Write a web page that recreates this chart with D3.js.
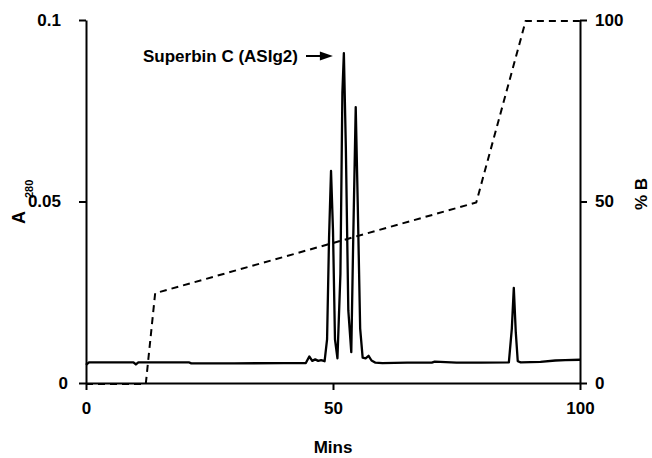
<!DOCTYPE html>
<html>
<head>
<meta charset="utf-8">
<script src="https://cdn.jsdelivr.net/npm/d3@7"></script>
<style>
  body { margin: 0; background: #fff; }
  svg text { font-family: "Liberation Sans", Arial, sans-serif; font-weight: bold; fill: #000; }
</style>
</head>
<body>
<svg class="chart"></svg>
<script>
// DATA /////////////////////////////////////////
// absorbance trace (minutes, A280)
const traceMins = [0, 0.6, 9.6, 10.1, 10.6, 20.8, 21.3, 30, 40, 44.5, 45.2, 45.8, 46.4, 47, 47.6, 48.3,
  48.8, 49.2, 49.6, 50.0, 50.4, 50.9, 51.5, 51.9, 52.2, 52.6, 53.1, 53.7, 54.1, 54.6, 55.0, 55.5,
  56.0, 56.6, 57.2, 57.8, 58.6, 60, 65, 70, 70.6, 75, 80, 85.6, 86.2, 86.6, 87.0, 87.4, 88, 92, 95, 97, 100];
const traceA = [0.0050, 0.0057, 0.0057, 0.0051, 0.0057, 0.0057, 0.0054, 0.0054, 0.0055, 0.0055, 0.0073, 0.0061, 0.0065, 0.0061, 0.0063, 0.0060,
  0.0120, 0.0400, 0.0584, 0.0420, 0.0120, 0.0068, 0.0300, 0.0800, 0.0909, 0.0650, 0.0200, 0.0085, 0.0400, 0.0760, 0.0500, 0.0150,
  0.0070, 0.0068, 0.0075, 0.0062, 0.0056, 0.0055, 0.0056, 0.0056, 0.0059, 0.0056, 0.0056, 0.0057, 0.0150, 0.0262, 0.0140, 0.0060, 0.0057, 0.0058, 0.0062, 0.0063, 0.0064];
// gradient programme (minutes, %B)
const gradMins = [0, 12.1, 14, 79, 89, 100];
const gradB = [0, 0, 25, 50, 100, 100];
const aTicks = [0, 0.05, 0.1];
const bTicks = [0, 50, 100];
const minTicks = [0, 50, 100];
const peakLabel = "Superbin C (ASIg2)";

// DEFINITIONS //////////////////////////////////
const W = 652, H = 458;
const svg = d3.select(".chart").attr("width", W).attr("height", H);

const x = d3.scaleLinear().domain([0, 100]).range([86, 580]);
const yA = d3.scaleLinear().domain([0, 0.1]).range([383, 20]);
const yB = d3.scaleLinear().domain([0, 100]).range([383, 20]);

const fmtA = (d) => (d === 0 ? "0" : String(d));

// AXES /////////////////////////////////////////
const leftAx = svg.append("g").attr("transform", `translate(${x(0)},0)`)
  .call(d3.axisLeft(yA).tickValues(aTicks).tickFormat(fmtA).tickSize(7).tickSizeOuter(0).tickPadding(18));
leftAx.selectAll("text").filter((d) => d === 0).attr("dx", 7);

svg.append("g").attr("transform", `translate(${x(100)},0)`)
  .call(d3.axisRight(yB).tickValues(bTicks).tickSize(7).tickSizeOuter(0).tickPadding(8));

svg.append("g").attr("transform", `translate(0,${yA(0)})`)
  .call(d3.axisBottom(x).tickValues(minTicks).tickSize(7).tickSizeOuter(0).tickPadding(12));

svg.selectAll(".domain, .tick line").attr("stroke", "#000").attr("stroke-width", 2);
svg.selectAll(".tick text").attr("font-size", 17).attr("font-family", null);

// LINES ////////////////////////////////////////
const trace = traceMins.map((m, i) => [m, traceA[i]]);
const grad = gradMins.map((m, i) => [m, gradB[i]]);

svg.append("path")
  .datum(grad)
  .attr("fill", "none")
  .attr("stroke", "#000")
  .attr("stroke-width", 2)
  .attr("stroke-dasharray", "7,5")
  .attr("d", d3.line().x((d) => x(d[0])).y((d) => yB(d[1]) + 1));

svg.append("path")
  .datum(trace)
  .attr("fill", "none")
  .attr("stroke", "#000")
  .attr("stroke-width", 2.3)
  .attr("stroke-linejoin", "round")
  .attr("d", d3.line().x((d) => x(d[0])).y((d) => yA(d[1])));

// LABELS ///////////////////////////////////////
svg.append("text")
  .attr("x", 333).attr("y", 453)
  .attr("text-anchor", "middle")
  .attr("font-size", 17)
  .text("Mins");

const aLab = svg.append("text")
  .attr("transform", "translate(25,224) rotate(-90)")
  .attr("font-size", 18);
aLab.append("tspan").text("A");
aLab.append("tspan").attr("dx", 13).attr("dy", 8).attr("font-size", 11).text("280");

svg.append("text")
  .attr("transform", "translate(647,210) rotate(-90)")
  .attr("font-size", 17)
  .text("% B");

// annotation
const peakX = x(52.2);
svg.append("text")
  .attr("x", 143).attr("y", 62)
  .attr("font-size", 17)
  .text(peakLabel);
svg.append("line")
  .attr("x1", 306).attr("x2", peakX - 22)
  .attr("y1", 56).attr("y2", 56)
  .attr("stroke", "#000").attr("stroke-width", 2);
svg.append("path")
  .attr("d", `M${peakX - 11},56 L${peakX - 24},51.5 L${peakX - 24},60.5 Z`)
  .attr("fill", "#000");
</script>
</body>
</html>
